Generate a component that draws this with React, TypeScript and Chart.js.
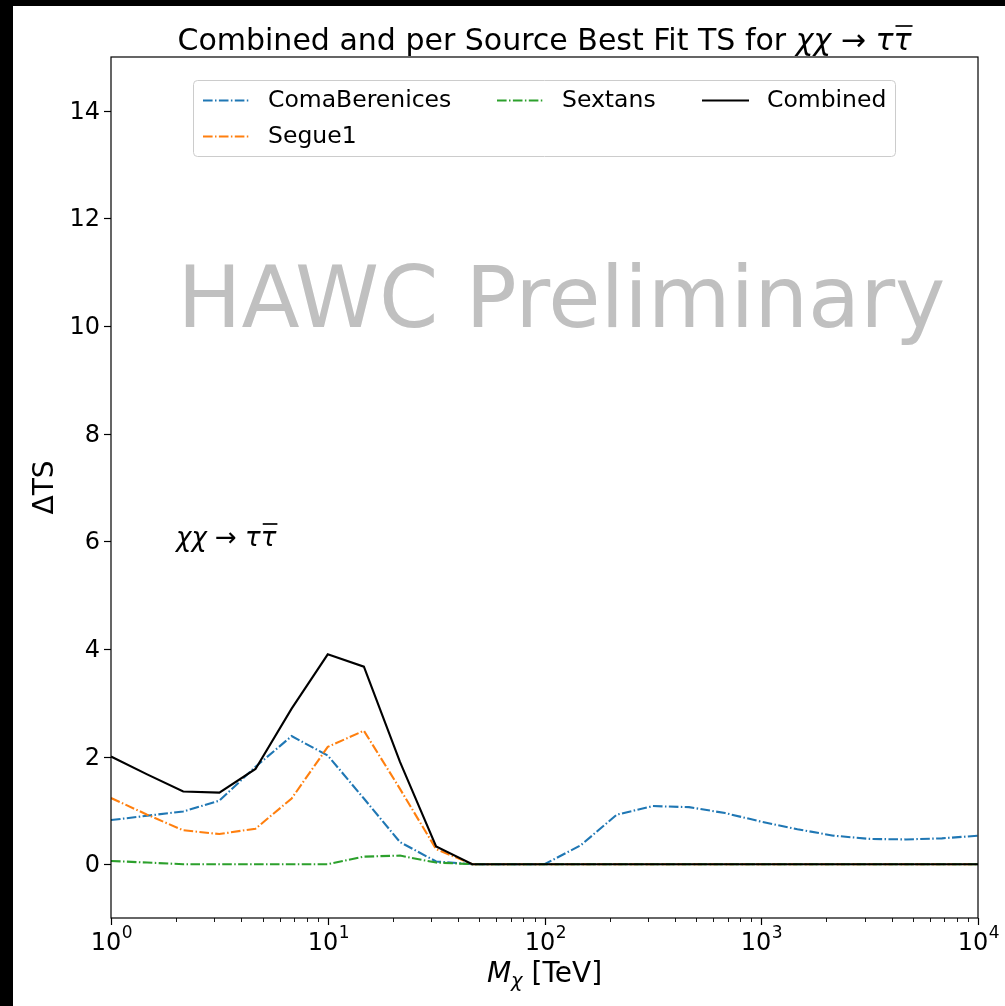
import React, { useEffect, useRef } from "react";
import { Chart, registerables } from "chart.js";

Chart.register(...registerables);

// ---- data ----
const massTeV = [1, 1.468, 2.154, 3.162, 4.642, 6.813, 10, 14.68, 21.54, 31.62, 46.42, 68.13, 100, 146.8, 215.4, 316.2, 464.2, 681.3, 1000, 1468, 2154, 3162, 4642, 6813, 10000];
const comaBerenices = [0.82, 0.9, 0.98, 1.18, 1.81, 2.38, 2.02, 1.22, 0.41, 0.05, 0, 0, 0, 0.35, 0.92, 1.08, 1.06, 0.95, 0.79, 0.65, 0.53, 0.47, 0.46, 0.48, 0.53];
const segue1 = [1.23, 0.92, 0.63, 0.56, 0.66, 1.22, 2.18, 2.48, 1.4, 0.28, 0, 0, 0, 0, 0, 0, 0, 0, 0, 0, 0, 0, 0, 0, 0];
const sextans = [0.06, 0.03, 0, 0, 0, 0, 0, 0.14, 0.16, 0.03, 0, 0, 0, 0, 0, 0, 0, 0, 0, 0, 0, 0, 0, 0, 0];
const combined = [2.0, 1.67, 1.35, 1.33, 1.77, 2.89, 3.9, 3.67, 1.9, 0.33, 0, 0, 0, 0, 0, 0, 0, 0, 0, 0, 0, 0, 0, 0, 0];

const seriesNames = ["ComaBerenices", "Segue1", "Sextans", "Combined"];
const seriesColors = ["#1f77b4", "#ff7f0e", "#2ca02c", "#000000"];

const xMajorTicks = [1, 10, 100, 1000, 10000];
const xTickExponents = ["0", "1", "2", "3", "4"];
const yTicks = [0, 2, 4, 6, 8, 10, 12, 14];
const yTickLabels = ["0", "2", "4", "6", "8", "10", "12", "14"];

const FONT = "'DejaVu Sans', 'Liberation Sans', sans-serif";
const DASH = [9.6, 2.4, 1.5, 2.4];

type Part = { text: string; font: string; overline?: boolean };

function measureParts(ctx: CanvasRenderingContext2D, parts: Part[]) {
  let w = 0;
  for (const p of parts) {
    ctx.font = p.font;
    w += ctx.measureText(p.text).width;
  }
  return w;
}

function drawParts(ctx: CanvasRenderingContext2D, parts: Part[], x: number, y: number, overlineOffset: number) {
  let cx = x;
  ctx.textAlign = "left";
  ctx.textBaseline = "alphabetic";
  for (const p of parts) {
    ctx.font = p.font;
    const w = ctx.measureText(p.text).width;
    ctx.fillText(p.text, cx, y);
    if (p.overline) {
      ctx.save();
      ctx.strokeStyle = ctx.fillStyle as string;
      ctx.lineWidth = 1.7;
      ctx.beginPath();
      ctx.moveTo(cx + 2, y - overlineOffset);
      ctx.lineTo(cx + w + 1, y - overlineOffset);
      ctx.stroke();
      ctx.restore();
    }
    cx += w;
  }
}

const decorPlugin = {
  id: "decor",
  beforeDatasetsDraw(chart: any) {
    const ctx: CanvasRenderingContext2D = chart.ctx;
    const a = chart.chartArea;
    ctx.save();
    ctx.fillStyle = "#c0c0c0";
    ctx.font = `85px ${FONT}`;
    ctx.textAlign = "center";
    ctx.textBaseline = "alphabetic";
    ctx.fillText("HAWC Preliminary", (a.left + a.right) / 2 + 17, 321);
    ctx.restore();
  },
  afterDraw(chart: any) {
    const ctx: CanvasRenderingContext2D = chart.ctx;
    const a = chart.chartArea;
    const xs = chart.scales.x;
    const ys = chart.scales.y;
    ctx.save();

    // frame
    ctx.strokeStyle = "#000";
    ctx.lineWidth = 1.2;
    ctx.strokeRect(a.left, a.top, a.right - a.left, a.bottom - a.top);

    // y ticks
    ctx.fillStyle = "#000";
    ctx.font = `24px ${FONT}`;
    ctx.textAlign = "right";
    ctx.textBaseline = "middle";
    yTicks.forEach((v, i) => {
      const py = Math.round(ys.getPixelForValue(v)) + 0.5;
      ctx.beginPath();
      ctx.moveTo(a.left - 7, py);
      ctx.lineTo(a.left, py);
      ctx.stroke();
      ctx.fillText(yTickLabels[i], a.left - 11, py + 1);
    });

    // x ticks (major + minor)
    xMajorTicks.forEach((v, i) => {
      const px = Math.round(xs.getPixelForValue(v)) + 0.5;
      ctx.lineWidth = 1.2;
      ctx.beginPath();
      ctx.moveTo(px, a.bottom);
      ctx.lineTo(px, a.bottom + 7);
      ctx.stroke();
      // label 10^k
      ctx.font = `24px ${FONT}`;
      const wb = ctx.measureText("10").width;
      ctx.font = `17px ${FONT}`;
      const we = ctx.measureText(xTickExponents[i]).width;
      const start = px - (wb + we) / 2;
      ctx.textAlign = "left";
      ctx.textBaseline = "alphabetic";
      ctx.font = `24px ${FONT}`;
      ctx.fillText("10", start, a.bottom + 32);
      ctx.font = `17px ${FONT}`;
      ctx.fillText(xTickExponents[i], start + wb + 0.5, a.bottom + 20);
      if (i < xMajorTicks.length - 1) {
        for (let m = 2; m <= 9; m++) {
          const mx = Math.round(xs.getPixelForValue(v * m)) + 0.5;
          ctx.lineWidth = 0.9;
          ctx.beginPath();
          ctx.moveTo(mx, a.bottom);
          ctx.lineTo(mx, a.bottom + 4);
          ctx.stroke();
        }
      }
    });
    ctx.lineWidth = 1.2;

    // axis titles
    ctx.font = `28px ${FONT}`;
    ctx.save();
    ctx.translate(32, (a.top + a.bottom) / 2 + 0);
    ctx.rotate(-Math.PI / 2);
    ctx.textAlign = "center";
    ctx.textBaseline = "alphabetic";
    ctx.fillText("\u0394TS", 0, 8);
    ctx.restore();

    {
      const pM = `italic 28px ${FONT}`;
      const pSub = `italic 19.5px ${FONT}`;
      const pN = `28px ${FONT}`;
      ctx.font = pM;
      const wM = ctx.measureText("M").width;
      ctx.font = pSub;
      const wS = ctx.measureText("\u03c7").width;
      ctx.font = pN;
      const wT = ctx.measureText(" [TeV]").width;
      const total = wM + wS + wT;
      const cx = (a.left + a.right) / 2;
      let sx = cx - total / 2;
      const by = a.bottom + 64;
      ctx.textAlign = "left";
      ctx.textBaseline = "alphabetic";
      ctx.font = pM;
      ctx.fillText("M", sx, by);
      sx += wM;
      ctx.font = pSub;
      ctx.fillText("\u03c7", sx, by + 5);
      sx += wS;
      ctx.font = pN;
      ctx.fillText(" [TeV]", sx, by);
    }

    // title
    {
      const parts: Part[] = [
        { text: "Combined and per Source Best Fit TS for ", font: `30px ${FONT}` },
        { text: "\u03c7\u03c7", font: `italic 30px ${FONT}` },
        { text: " \u2192 ", font: `30px ${FONT}` },
        { text: "\u03c4", font: `italic 30px ${FONT}` },
        { text: "\u03c4", font: `italic 30px ${FONT}`, overline: true },
      ];
      const w = measureParts(ctx, parts);
      ctx.fillStyle = "#000";
      drawParts(ctx, parts, (a.left + a.right) / 2 - w / 2, 44, 24);
    }

    // annotation
    {
      const parts: Part[] = [
        { text: "\u03c7\u03c7", font: `italic 26px ${FONT}` },
        { text: " \u2192 ", font: `26px ${FONT}` },
        { text: "\u03c4", font: `italic 26px ${FONT}` },
        { text: "\u03c4", font: `italic 26px ${FONT}`, overline: true },
      ];
      drawParts(ctx, parts, 163, 540, 22);
    }

    // legend
    {
      const bx = 180, by = 74, bw = 702, bh = 76;
      ctx.fillStyle = "rgba(255,255,255,0.8)";
      ctx.strokeStyle = "#cccccc";
      ctx.lineWidth = 1;
      ctx.beginPath();
      (ctx as any).roundRect(bx + 0.5, by + 0.5, bw, bh, 4);
      ctx.fill();
      ctx.stroke();
      const cols = [190, 484, 689];
      const rows = [94, 130];
      const slots = [[0, 0], [0, 1], [1, 0], [2, 0]];
      seriesNames.forEach((name, i) => {
        const [c, r] = slots[i];
        const lx = cols[c];
        const ly = rows[r];
        ctx.strokeStyle = seriesColors[i];
        ctx.lineWidth = 2.1;
        ctx.setLineDash(i === 3 ? [] : DASH);
        ctx.beginPath();
        ctx.moveTo(lx, ly + 0.5);
        ctx.lineTo(lx + 47, ly + 0.5);
        ctx.stroke();
        ctx.setLineDash([]);
        ctx.fillStyle = "#000";
        ctx.font = `23.5px ${FONT}`;
        ctx.textAlign = "left";
        ctx.textBaseline = "middle";
        ctx.fillText(name, lx + 65, ly + 1);
      });
    }
    ctx.restore();
  },
};

export default function App() {
  const ref = useRef<HTMLCanvasElement | null>(null);
  useEffect(() => {
    if (!ref.current) return;
    const series = [comaBerenices, segue1, sextans, combined];
    const chart = new Chart(ref.current, {
      type: "line",
      data: {
        datasets: series.map((vals, i) => ({
          label: seriesNames[i],
          data: massTeV.map((m, j) => ({ x: m, y: vals[j] })),
          borderColor: seriesColors[i],
          backgroundColor: seriesColors[i],
          borderWidth: 2.1,
          borderDash: i === 3 ? [] : DASH,
          pointRadius: 0,
          tension: 0,
          fill: false,
          order: i === 3 ? 0 : 4 - i,
        })),
      },
      options: {
        responsive: false,
        animation: false,
        layout: { padding: { left: 98, top: 51, right: 27, bottom: 88 } },
        plugins: {
          legend: { display: false },
          title: { display: false },
          tooltip: { enabled: false },
        },
        scales: {
          x: { type: "logarithmic", min: 1, max: 10000, display: false },
          y: { type: "linear", min: -1, max: 15, display: false },
        },
      },
      plugins: [decorPlugin],
    });
    return () => chart.destroy();
  }, []);

  return (
    <div style={{ position: "fixed", left: 0, top: 0, width: 1005, height: 1006, background: "#000" }}>
      <canvas
        ref={ref}
        width={992}
        height={1000}
        style={{ position: "absolute", left: 13, top: 6, width: 992, height: 1000, background: "#fff", display: "block" }}
      />
    </div>
  );
}
